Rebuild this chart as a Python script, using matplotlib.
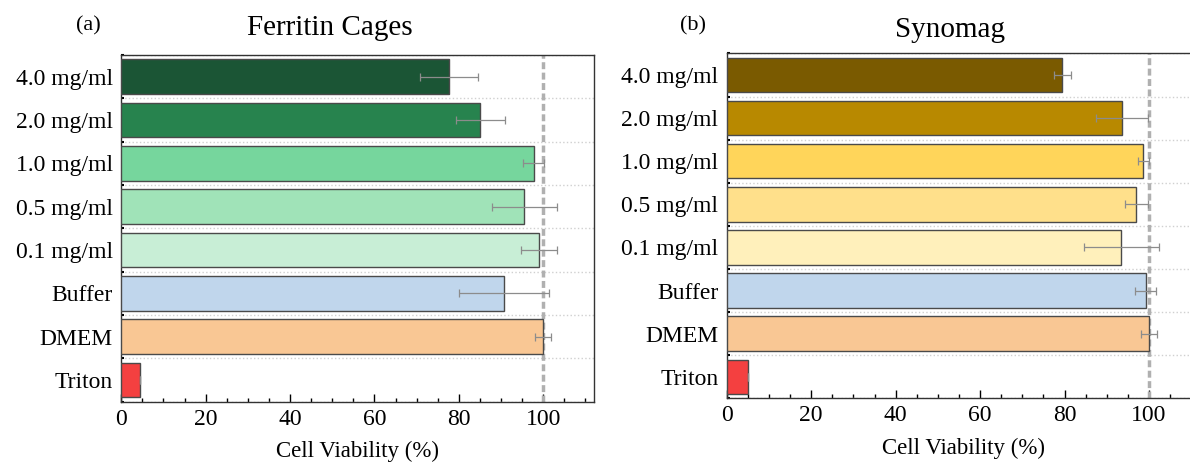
import matplotlib.pyplot as plt
import numpy as np
from matplotlib.ticker import MultipleLocator

plt.rcParams['font.family'] = ['Liberation Serif', 'DejaVu Serif']

labels = ['4.0 mg/ml', '2.0 mg/ml', '1.0 mg/ml', '0.5 mg/ml', '0.1 mg/ml', 'Buffer', 'DMEM', 'Triton']

# (a) Ferritin cages
ferritin = [77.7, 85.1, 97.7, 95.5, 99.0, 90.7, 100.0, 4.5]
ferritin_err = [6.8, 5.9, 2.5, 7.7, 4.2, 10.7, 1.9, 0.0]
ferritin_colors = ['#1b5535', '#27834e', '#76d69d', '#a0e3b8', '#c8eed6', '#c0d6ec', '#f9c794', '#f44040']

# (b) Synomag
synomag = [79.5, 93.6, 98.6, 97.0, 93.4, 99.2, 100.0, 5.0]
synomag_err = [2.1, 6.1, 1.3, 2.7, 8.9, 2.5, 1.9, 0.0]
synomag_colors = ['#7a5a00', '#b88900', '#ffd55a', '#ffe08b', '#fff0bb', '#c0d6ec', '#f9c794', '#f44040']

fig = plt.figure(figsize=(11.9, 4.63), dpi=100)
ax1 = fig.add_axes([0.1019, 0.1324, 0.3972, 0.7488])
ax2 = fig.add_axes([0.6107, 0.1397, 0.3975, 0.745])


def draw(ax, vals, errs, colors):
    y = np.arange(len(labels))
    ax.barh(y, vals, height=0.8, color=colors, edgecolor='#4a4a4a', linewidth=1.0, zorder=3)
    ax.errorbar(vals, y, xerr=errs, fmt='none', ecolor='#8c8c8c', elinewidth=0.9,
                capsize=3, capthick=0.9, zorder=4)
    ax.axvline(100, color='#b0b0b0', linestyle=(0, (2, 1)), linewidth=2.5, zorder=2)
    ax.set_yticks(y)
    ax.set_yticklabels(labels, fontsize=17)
    ax.set_ylim(len(labels) - 0.5, -0.5)
    ax.set_yticks(np.arange(-0.5, len(labels), 1.0), minor=True)
    ax.grid(axis='y', which='minor', color='#d0d0d0', linestyle=':', linewidth=1.0, zorder=1)
    ax.set_xlim(0, 112)
    ax.xaxis.set_major_locator(MultipleLocator(20))
    ax.xaxis.set_minor_locator(MultipleLocator(5))
    ax.tick_params(axis='x', which='major', direction='in', length=6, width=1, labelsize=17, pad=5)
    ax.tick_params(axis='x', which='minor', direction='in', length=3, width=1)
    ax.tick_params(axis='y', which='major', direction='in', length=4, width=1.5, pad=6)
    ax.tick_params(axis='y', which='minor', direction='in', length=2, width=1.5)
    ax.set_xlabel('Cell Viability (%)', fontsize=16.5, labelpad=8)
    for s in ax.spines.values():
        s.set_color('#333333')
        s.set_linewidth(1.0)


draw(ax1, ferritin, ferritin_err, ferritin_colors)
draw(ax2, synomag, synomag_err, synomag_colors)

fig.text(330 / 1190, 1 - 28 / 463, 'Ferritin Cages', ha='center', va='center', fontsize=21)
fig.text(88 / 1190, 1 - 26 / 463, '(a)', ha='center', va='center', fontsize=16)
fig.text(950 / 1190, 1 - 30 / 463, 'Synomag', ha='center', va='center', fontsize=21)
fig.text(693 / 1190, 1 - 26 / 463, '(b)', ha='center', va='center', fontsize=16)

fig.savefig('out.png', dpi=100)
